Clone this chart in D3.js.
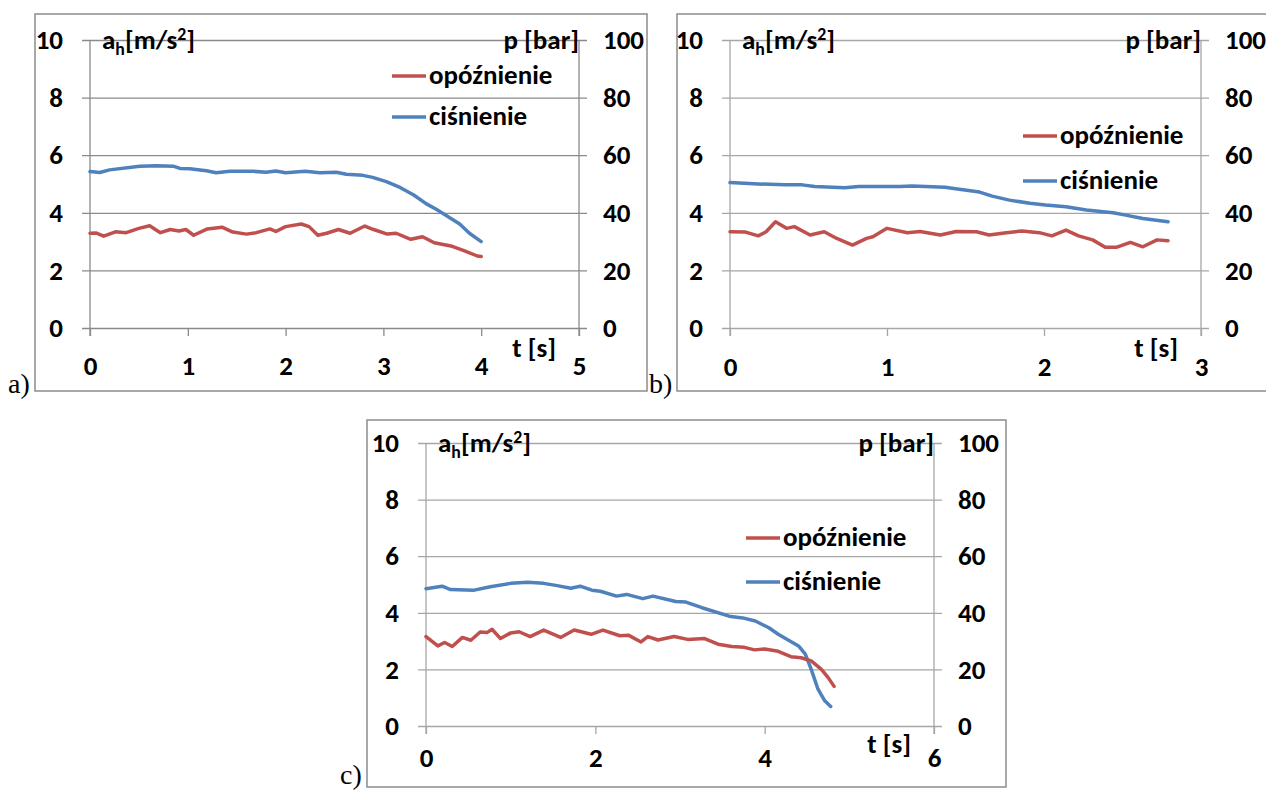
<!DOCTYPE html>
<html><head><meta charset="utf-8">
<script src="https://cdn.jsdelivr.net/npm/d3@7"></script>
<style>
body{margin:0;background:#fff;}
svg{display:block;}
text{font-family:Carlito, Lato, sans-serif;font-weight:bold;fill:#000;}
</style></head><body>
<svg id="chart" width="1266" height="792"></svg>
<script>
// ---------- data ----------
const legendNames = ["opóźnienie", "ciśnienie"];
const leftTicks = [0, 2, 4, 6, 8, 10];
const rightTicks = [0, 20, 40, 60, 80, 100];

// panel a
const aTicksX = [0, 1, 2, 3, 4, 5];
const aRedT = [0,0.06,0.14,0.26,0.37,0.5,0.61,0.72,0.82,0.91,0.98,1.06,1.2,1.35,1.46,1.6,1.7,1.84,1.9,2.0,2.16,2.24,2.33,2.42,2.54,2.66,2.81,2.9,3.04,3.13,3.28,3.4,3.52,3.69,3.83,3.96,4.0];
const aRedV = [3.29,3.3,3.19,3.34,3.31,3.46,3.55,3.31,3.42,3.37,3.42,3.22,3.44,3.5,3.33,3.26,3.31,3.44,3.35,3.52,3.61,3.52,3.22,3.29,3.42,3.29,3.54,3.42,3.26,3.29,3.08,3.17,2.96,2.85,2.68,2.5,2.48];
const aBlueT = [0,0.1,0.2,0.51,0.68,0.85,0.92,1.02,1.19,1.29,1.43,1.67,1.8,1.9,2.0,2.2,2.35,2.52,2.62,2.79,2.89,3.03,3.17,3.31,3.44,3.54,3.65,3.78,3.88,4.0];
const aBlueV = [54.3,54.0,54.9,56.2,56.3,56.2,55.4,55.3,54.6,53.9,54.4,54.4,54.1,54.5,53.9,54.4,53.9,54.1,53.4,53.0,52.3,50.8,48.8,46.2,43.1,41.2,38.9,36.1,32.9,30.0];

// panel b
const bTicksX = [0, 1, 2, 3];
const bRedT = [0,0.1,0.18,0.23,0.29,0.36,0.41,0.51,0.6,0.68,0.78,0.87,0.91,1.0,1.13,1.21,1.34,1.44,1.57,1.65,1.76,1.86,1.97,2.05,2.14,2.22,2.31,2.39,2.46,2.55,2.63,2.72,2.79];
const bRedV = [3.34,3.33,3.2,3.34,3.69,3.46,3.52,3.23,3.34,3.11,2.88,3.11,3.17,3.46,3.31,3.35,3.23,3.35,3.34,3.23,3.31,3.37,3.31,3.2,3.4,3.2,3.06,2.8,2.8,2.97,2.82,3.06,3.03];
const bBlueT = [0,0.18,0.35,0.46,0.54,0.73,0.82,0.95,1.08,1.16,1.37,1.46,1.59,1.67,1.78,1.91,2.01,2.14,2.27,2.44,2.52,2.63,2.79];
const bBlueV = [50.5,50.0,49.7,49.7,49.1,48.7,49.1,49.1,49.1,49.3,48.9,48.2,47.2,45.8,44.4,43.3,42.7,42.1,41.0,40.0,39.2,38.0,36.9];

// panel c
const cTicksX = [0, 2, 4, 6];
const cRedT = [0,0.14,0.22,0.31,0.43,0.53,0.64,0.72,0.78,0.88,1.0,1.1,1.23,1.39,1.59,1.75,1.95,2.09,2.29,2.39,2.54,2.62,2.74,2.93,3.09,3.29,3.45,3.61,3.76,3.88,4.0,4.16,4.31,4.43,4.55,4.67,4.75,4.82];
const cRedV = [3.16,2.83,2.95,2.81,3.13,3.03,3.32,3.3,3.42,3.09,3.29,3.33,3.16,3.39,3.13,3.39,3.24,3.39,3.19,3.21,2.97,3.16,3.04,3.16,3.06,3.09,2.89,2.81,2.78,2.69,2.72,2.64,2.45,2.41,2.3,2.0,1.71,1.4];
const cBlueT = [0,0.19,0.29,0.57,0.76,1.0,1.2,1.39,1.55,1.71,1.82,1.96,2.06,2.25,2.37,2.56,2.68,2.95,3.07,3.26,3.58,3.74,3.89,4.05,4.16,4.4,4.48,4.55,4.63,4.71,4.78];
const cBlueV = [48.5,49.4,48.2,48.0,49.2,50.4,50.8,50.4,49.6,48.7,49.4,48.0,47.6,45.9,46.5,45.0,45.9,44.0,43.8,41.8,38.8,38.2,37.1,34.7,32.4,28.3,25.4,20.0,13.0,8.9,6.9];

// ---------- layout ----------
const RED = "#C0504D", BLUE = "#4F81BD";
const panels = [
  {id:"a", box:[35,14,647,391], x0:90, x1:579, yT:40, yB:328, xMax:5, ticksX:aTicksX,
   redT:aRedT, redV:aRedV, blueT:aBlueT, blueV:aBlueV, grid:"#8a8a8a",
   leg:[392,76,117], xlab:365, tlab:347, tag:[8,393]},
  {id:"b", box:[677,14,1290,391], x0:730, x1:1201, yT:40, yB:328, xMax:3, ticksX:bTicksX,
   redT:bRedT, redV:bRedV, blueT:bBlueT, blueV:bBlueV, grid:"#a6a6a6",
   leg:[1023,136,181], xlab:366, tlab:347, tag:[649,393]},
  {id:"c", box:[367,420,1006,787], x0:426, x1:934, yT:443, yB:726, xMax:6, ticksX:cTicksX,
   redT:cRedT, redV:cRedV, blueT:cBlueT, blueV:cBlueV, grid:"#a6a6a6",
   leg:[746,538,582], xlab:757, tlab:743, tag:[340,784]}
];

const svg = d3.select("#chart");
const FS = 27;
const FF = "Carlito, Lato, sans-serif";

panels.forEach(p => {
  const g = svg.append("g");
  // outer frame
  g.append("rect").attr("x", p.box[0]).attr("y", p.box[1])
    .attr("width", p.box[2]-p.box[0]).attr("height", p.box[3]-p.box[1])
    .attr("fill", "none").attr("stroke", "#8c8c8c").attr("stroke-width", 1.5);

  const x = d3.scaleLinear().domain([0, p.xMax]).range([p.x0, p.x1]);
  const yL = d3.scaleLinear().domain([0, 10]).range([p.yB, p.yT]);
  const yR = d3.scaleLinear().domain([0, 100]).range([p.yB, p.yT]);
  const w = p.x1 - p.x0;

  // left axis with gridlines
  const gl = g.append("g").attr("transform", `translate(${p.x0-8},0)`)
    .call(d3.axisLeft(yL).tickValues(leftTicks).tickSize(-(w+16)).tickPadding(19).tickFormat(d3.format("d")));
  gl.select(".domain").remove();
  gl.selectAll("line").attr("stroke", p.grid).attr("stroke-width", 1.3);
  gl.selectAll("text").style("font-size", FS+"px").style("font-family", FF).attr("fill","#000");

  // right axis labels
  const gr = g.append("g").attr("transform", `translate(${p.x1},0)`)
    .call(d3.axisRight(yR).tickValues(rightTicks).tickSize(0).tickPadding(24).tickFormat(d3.format("d")));
  gr.select(".domain").remove();
  gr.selectAll("text").style("font-size", FS+"px").style("font-family", FF).attr("fill","#000");

  // bottom axis ticks and labels
  const gb = g.append("g").attr("transform", `translate(0,${p.yB})`)
    .call(d3.axisBottom(x).tickValues(p.ticksX).tickSize(8).tickFormat(d3.format("d")));
  gb.select(".domain").remove();
  gb.selectAll("line").attr("stroke", p.grid).attr("stroke-width", 1.3);
  gb.selectAll("text").attr("y", p.xlab - p.yB).attr("dy", "0.36em")
    .style("font-size", FS+"px").style("font-family", FF).attr("fill","#000");

  // vertical axis lines
  [p.x0, p.x1].forEach(xx => {
    g.append("line").attr("x1", xx).attr("x2", xx).attr("y1", p.yT).attr("y2", p.yB+8)
      .attr("stroke", p.grid).attr("stroke-width", 1.3);
  });

  // axis titles
  const at = g.append("text").attr("x", p.x0+12).attr("y", yL(10)+9).style("font-size", FS+"px");
  at.append("tspan").text("a");
  at.append("tspan").text("h").attr("dy", 6).style("font-size", (FS*0.66)+"px");
  at.append("tspan").text("[m/s").attr("dy", -6);
  at.append("tspan").text("2").attr("dy", -9).style("font-size", (FS*0.66)+"px");
  at.append("tspan").text("]").attr("dy", 9);

  g.append("text").attr("x", p.x1).attr("y", yL(10)+9).attr("text-anchor", "end")
    .style("font-size", FS+"px").text("p [bar]");
  g.append("text").attr("x", p.x1-23).attr("y", p.tlab).attr("dy", "0.36em").attr("text-anchor", "end")
    .style("font-size", FS+"px").text("t [s]");

  // panel tag
  g.append("text").attr("x", p.tag[0]).attr("y", p.tag[1])
    .style("font-family", "'Liberation Serif', 'Times New Roman', serif").style("font-weight", "normal")
    .style("font-size", "28px").text(p.id + ")");

  // series
  const lineL = d3.line().x(d => x(d[0])).y(d => yL(d[1]));
  const lineR = d3.line().x(d => x(d[0])).y(d => yR(d[1]));
  const red = p.redT.map((t, i) => [t, p.redV[i]]);
  const blue = p.blueT.map((t, i) => [t, p.blueV[i]]);
  g.append("path").datum(blue).attr("d", lineR).attr("fill", "none").attr("stroke", BLUE)
    .attr("stroke-width", 3.5).attr("stroke-linejoin", "round").attr("stroke-linecap", "round");
  g.append("path").datum(red).attr("d", lineL).attr("fill", "none").attr("stroke", RED)
    .attr("stroke-width", 3.5).attr("stroke-linejoin", "round").attr("stroke-linecap", "round");

  // legend
  const lx = p.leg[0];
  [[RED, p.leg[1], legendNames[0]], [BLUE, p.leg[2], legendNames[1]]].forEach(([c, ly, name]) => {
    g.append("line").attr("x1", lx).attr("x2", lx+34).attr("y1", ly).attr("y2", ly)
      .attr("stroke", c).attr("stroke-width", 3.5);
    g.append("text").attr("x", lx+37).attr("y", ly).attr("dy", "0.3em")
      .style("font-size", FS+"px").text(name);
  });
});
</script>
</body></html>
